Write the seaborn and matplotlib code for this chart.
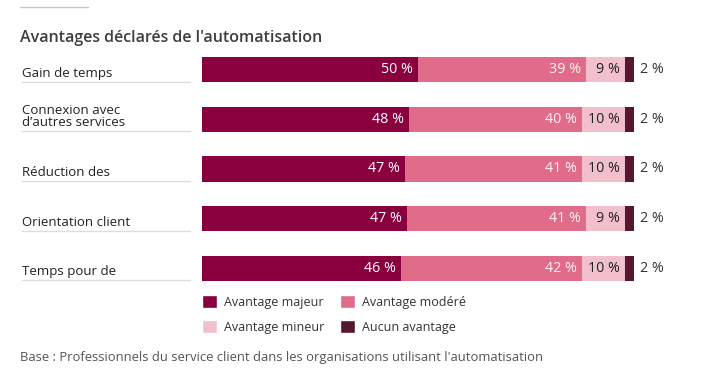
import matplotlib
matplotlib.use("Agg")
import matplotlib.pyplot as plt
import seaborn as sns
import pandas as pd
import numpy as np
from matplotlib.patches import Patch
from matplotlib.lines import Line2D
import matplotlib.transforms as mtransforms

sns.set_theme(style="white")
plt.rcParams['font.family'] = ['Open Sans', 'DejaVu Sans']

categories = ["Gain de temps", "Connexion avec\nd\u2019autres services", "Réduction des",
              "Orientation client", "Temps pour de"]
majeur = [50, 48, 47, 47, 46]
modere = [39, 40, 41, 41, 42]
mineur = [9, 10, 10, 9, 10]
aucun = [2, 2, 2, 2, 2]
series_names = ["Avantage majeur", "Avantage modéré", "Avantage mineur", "Aucun avantage"]
colors = ["#8a003f", "#e06c8a", "#f1c0cc", "#561830"]

W, H = 711, 382
fig = plt.figure(figsize=(W/100, H/100), dpi=100)
ax = fig.add_axes([202/W, 1-293/H, 432/W, 248/H])

vals = np.array([majeur, modere, mineur, aucun], dtype=float)
shares = vals / vals.sum(axis=0) * 100  # 100% stacked
cums = np.cumsum(shares, axis=0)
for k in range(3, -1, -1):
    d = pd.DataFrame({"cat": categories, "v": cums[k]})
    sns.barplot(data=d, x="v", y="cat", orient="h", color=colors[k], width=0.505,
                ax=ax, saturation=1, linewidth=0)

ax.set_xlim(0, 100)
ax.set_ylim(4.5, -0.5)
ax.axis("off")

txt_colors = ["white", "#fff3f6", "#222222"]
for i in range(len(categories)):
    for k in range(3):
        end = cums[k][i]
        ax.text(end - 1.2, i, f"{int(vals[k][i])} %", ha="right", va="center",
                fontsize=10.3, color=txt_colors[k])
    ax.text(cums[3][i] + 1.4, i, f"{int(vals[3][i])} %", ha="left", va="center",
            fontsize=10.3, color="#333333")

trans = mtransforms.blended_transform_factory(fig.transFigure, ax.transData)
for i, c in enumerate(categories):
    ax.text(22/W, i + 0.2, c, transform=trans, ha="left", va="bottom",
            fontsize=9.5, color="#222222", linespacing=0.95)
    ax.add_line(Line2D([22/W, 190/W], [i + 0.24, i + 0.24], transform=trans,
                       color="#dddddd", lw=1, clip_on=False))

fig.text(20/W, 1-38/H, "Avantages déclarés de l'automatisation", ha="left", va="center",
         fontsize=11.5, fontweight="semibold", color="#3e3e3c")
fig.add_artist(Line2D([20/W, 88/W], [1-7/H, 1-7/H], transform=fig.transFigure,
                      color="#c9c9c9", lw=1))

handles = [Patch(facecolor=colors[0]), Patch(facecolor=colors[2]),
           Patch(facecolor=colors[1]), Patch(facecolor=colors[3])]
labels = [series_names[0], series_names[2], series_names[1], series_names[3]]
fig.legend(handles, labels, ncol=2, loc="upper left",
           bbox_to_anchor=(202/W, 1-295/H), frameon=False, fontsize=9,
           handlelength=1.2, handleheight=1.2, handletextpad=0.55,
           columnspacing=1.25, labelspacing=0.9, labelcolor="#333333",
           borderpad=0, borderaxespad=0)

fig.text(20/W, 1-357/H,
         "Base : Professionnels du service client dans les organisations utilisant l'automatisation",
         ha="left", va="center", fontsize=9.4, color="#555555")

fig.savefig("out.png", dpi=100, facecolor="white")
